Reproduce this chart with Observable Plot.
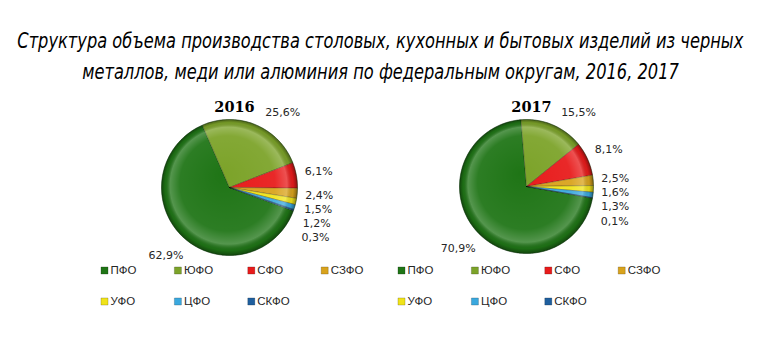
<!DOCTYPE html>
<html><head><meta charset="utf-8">
<script src="https://cdn.jsdelivr.net/npm/d3@7"></script>
<script src="https://cdn.jsdelivr.net/npm/@observablehq/plot@0.6"></script>
<style>
body{margin:0;background:#fff;width:761px;height:352px;overflow:hidden}
#title{height:90px;box-sizing:border-box;padding-top:25px;font-family:"Liberation Sans Narrow","DejaVu Sans Condensed","Liberation Sans",sans-serif;font-style:italic;font-size:22px;line-height:31px;color:#000}
#title div{white-space:nowrap;display:flex;justify-content:center;width:761px;height:31px;overflow:visible}
#title span{display:inline-block;flex-shrink:0;transform-origin:center}
#chart svg{display:block}
</style></head><body>
<div id="title"><div><span id="t1">Структура объема производства столовых, кухонных и бытовых изделий из черных</span></div><div><span id="t2">металлов, меди или алюминия по федеральным округам, 2016, 2017</span></div></div>
<div id="chart"></div>
<script>
// ---- data ----
const regions = ["ПФО", "ЮФО", "СФО", "СЗФО", "УФО", "ЦФО", "СКФО"];
const years = ["2016", "2017"];
const values2016 = [62.9, 25.6, 6.1, 2.4, 1.5, 1.2, 0.3];
const values2017 = [70.9, 15.5, 8.1, 2.5, 1.6, 1.3, 0.1];
const colors = ["#1f7516", "#7ca329", "#e81b1b", "#d9a31c", "#f0e31a", "#3aa8de", "#1f5f9e"];

// ---- layout ----
const W = 761, H = 262;
const pies = [
  {year: years[0], values: values2016, cx: 229, cy: 97, r: 68, start: 110},
  {year: years[1], values: values2017, cx: 526, cy: 96, r: 67, start: 100}
];
const rad = d => d * Math.PI / 180;
const fmt = v => v.toFixed(1).replace(".", ",") + "%";

const sliceRows = [], labelRows = [], legendRows = [], yearRows = [], shadeRows = [];
for (const p of pies) {
  const items = regions.map((region, i) => ({region, value: p.values[i]}));
  const arcs = d3.pie().sort(null).value(d => d.value)
    .startAngle(rad(p.start)).endAngle(rad(p.start) + 2 * Math.PI)(items);
  const pt = (a, rr) => [p.cx + rr * Math.sin(a), p.cy - rr * Math.cos(a)];
  for (const a of arcs) {
    const key = p.year + a.data.region;
    const n = Math.max(2, Math.ceil((a.endAngle - a.startAngle) / rad(1)));
    sliceRows.push({key, region: a.data.region, x: p.cx, y: p.cy});
    for (let k = 0; k <= n; k++) {
      const [x, y] = pt(a.startAngle + (a.endAngle - a.startAngle) * k / n, p.r);
      sliceRows.push({key, region: a.data.region, x, y});
    }
    sliceRows.push({key, region: a.data.region, x: p.cx, y: p.cy});
  }
  const yearBox = {x: p.cx + 5, y: 17, w: 60, h: 26};
  yearRows.push({year: p.year, x: yearBox.x, y: yearBox.y});
  // labels: outside end at mid-angle; rotate away from the year title, push down on collisions
  const place = (m, l) => {
    const d = p.r + 8 + (l.w / 2) * Math.abs(Math.sin(m)) + (l.h / 2) * Math.abs(Math.cos(m));
    [l.x, l.y] = pt(m, d);
  };
  const over = (q, l) => Math.abs(q.x - l.x) < (q.w + l.w) / 2 && Math.abs(q.y - l.y) < (q.h + l.h) / 2;
  const labs = arcs.map(a => {
    const m = (a.startAngle + a.endAngle) / 2;
    const text = fmt(a.data.value);
    const l = {text, w: text.length * 6.8, h: 14, m, deg: ((m * 180 / Math.PI) % 360 + 360) % 360};
    place(m, l);
    return l;
  }).sort((a, b) => a.deg - b.deg);
  const placed = [];
  for (const l of labs) {
    let m = l.m;
    while (over(yearBox, l)) { m += rad(1); place(m, l); }
    while (placed.some(q => over(q, l))) l.y += 1;
    placed.push(l);
    labelRows.push(l);
  }
  regions.forEach((region, i) => {
    legendRows.push({region, x: p.cx - 125 + (i % 4) * 73.4, y: 180 + Math.floor(i / 4) * 31});
  });
  shadeRows.push({x: p.cx, y: p.cy, r: p.r});
}

const chart = Plot.plot({
  width: W, height: H,
  margin: 0,
  x: {domain: [0, W], range: [0, W], axis: null},
  y: {domain: [0, H], range: [0, H], axis: null},
  r: {type: "identity"},
  color: {domain: regions, range: colors},
  marks: [
    Plot.line(sliceRows, {x: "x", y: "y", z: "key", fill: "region", stroke: "#000", strokeOpacity: 0.3, strokeWidth: 0.8, curve: "linear"}),
    Plot.dot(shadeRows, {x: "x", y: "y", r: "r", fill: "url(#pieShade)", stroke: "#0b3d0b", strokeOpacity: 0.4, strokeWidth: 0.8}),
    Plot.text(yearRows, {x: "x", y: "y", text: "year", fontFamily: "DejaVu Serif", fontWeight: "bold", fontSize: 14.5, fill: "#000"}),
    Plot.text(labelRows, {x: "x", y: "y", text: "text", fontFamily: "DejaVu Sans", fontSize: 11, fill: "#262626"}),
    Plot.dot(legendRows, {x: "x", y: "y", symbol: "square", r: 4, fill: "region", stroke: "#000", strokeOpacity: 0.3, strokeWidth: 0.6}),
    Plot.text(legendRows, {x: d => d.x + 6, y: "y", text: "region", textAnchor: "start", fontFamily: "Liberation Sans", fontSize: 11.5, fill: "#262626"})
  ]
});

const svg = d3.select(chart);
const defs = svg.insert("defs", ":first-child");
const g = defs.append("radialGradient").attr("id", "pieShade").attr("cx", "50%").attr("cy", "50%").attr("r", "50%").attr("fx", "45%").attr("fy", "40%");
[[0, "#ffffff", 0], [0.7, "#ffffff", 0.06], [0.86, "#ffffff", 0.24], [0.94, "#000000", 0.06], [1, "#000000", 0.4]]
  .forEach(([o, c, op]) => g.append("stop").attr("offset", o).attr("stop-color", c).attr("stop-opacity", op));
document.getElementById("chart").appendChild(chart);

// fit title lines to the reference width
const t1 = document.getElementById("t1"), t2 = document.getElementById("t2");
const s = 726 / t1.getBoundingClientRect().width;
t1.style.transform = `scaleX(${s})`;
t2.style.transform = `scaleX(${s})`;
</script>
</body></html>
